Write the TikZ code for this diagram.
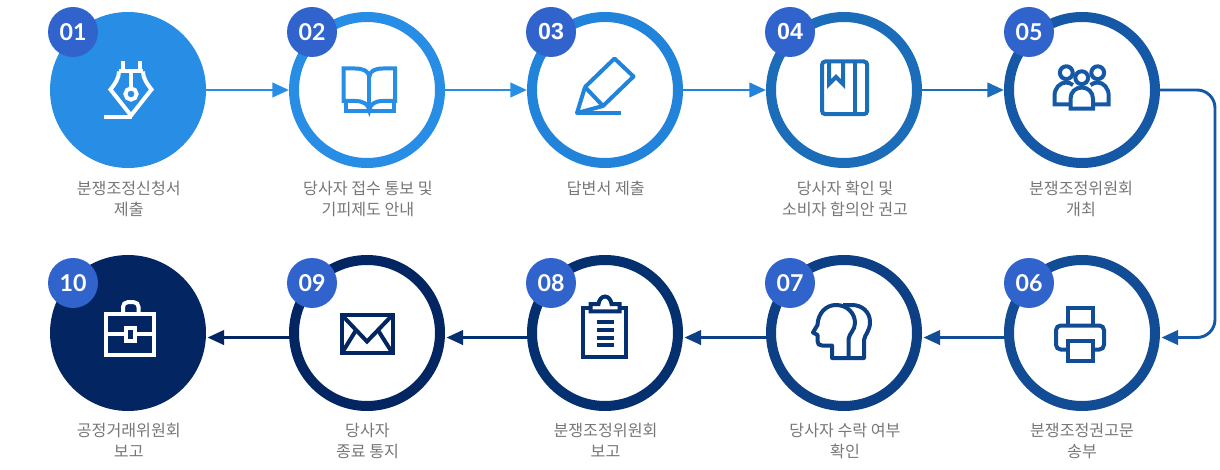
\documentclass[tikz,border=0pt]{standalone}
\usepackage{fontspec}
\usetikzlibrary{arrows.meta,calc}
\setmainfont{Noto Sans CJK KR}
\newfontfamily\latofont{Lato}
\newfontfamily\arialfont{Liberation Sans}
\definecolor{c1}{HTML}{288DE4}
\definecolor{c2}{HTML}{288DE4}
\definecolor{c3}{HTML}{2183DA}
\definecolor{c4}{HTML}{1C6DB9}
\definecolor{c5}{HTML}{1558A5}
\definecolor{c6}{HTML}{114C94}
\definecolor{c7}{HTML}{0D3F85}
\definecolor{c8}{HTML}{05306F}
\definecolor{c9}{HTML}{032663}
\definecolor{c10}{HTML}{032663}
\definecolor{badgecol}{HTML}{3163CC}
\definecolor{labelcol}{HTML}{777777}
\tikzset{
  ring/.style={circle,draw=#1,fill=white,line width=7.5pt,minimum size=109.5pt,inner sep=0pt},
  disc/.style={circle,fill=#1,minimum size=117pt,inner sep=0pt,outer sep=0pt},
  badge/.style={circle,fill=badgecol,minimum size=37.5pt,inner sep=0pt,text=white,font=\latofont\bfseries\fontsize{17.4}{18}\selectfont},
  badgeb/.style={badge,font=\arialfont\bfseries\fontsize{17.4}{18}\selectfont},
  caption/.style={anchor=north,align=center,inner sep=0pt,text=labelcol,font=\fontsize{12.1}{15.7}\selectfont},
  link/.style={draw=#1,line width=2.2pt,-{Triangle[length=12.5pt,width=10.8pt,fill=#1]}},
  icon/.style={draw=#1,line width=3pt,line join=miter,fill=none},
}
\begin{document}
\begin{tikzpicture}[x=0.75pt,y=-0.75pt]
\useasboundingbox (0,0) rectangle (1220,470);
% circles
\node[disc=c1] (n1) at (128,90) {};
\node[ring=c2] (n2) at (367,90) {};
\node[ring=c3] (n3) at (605,90) {};
\node[ring=c4] (n4) at (844,90) {};
\node[ring=c5] (n5) at (1082,90) {};
\node[ring=c6] (n6) at (1082,333) {};
\node[ring=c7] (n7) at (844,333) {};
\node[ring=c8] (n8) at (605,333) {};
\node[ring=c9] (n9) at (367,333) {};
\node[disc=c10] (n10) at (128,333) {};
% connectors
\draw[link=c1] (n1.east) -- (n2.west);
\draw[link=c2] (n2.east) -- (n3.west);
\draw[link=c3] (n3.east) -- (n4.west);
\draw[link=c4] (n4.east) -- (n5.west);
\coordinate (e1) at (1215,90);
\coordinate (e2) at (1215,337.5);
\draw[link=c5,rounded corners=13.5pt] (n5.east) -- (e1) -- (e2) -- ([xshift=1.1pt,yshift=-3.4pt]n6.east);
\draw[link=c6] ([yshift=-3.4pt]n6.west) -- ([xshift=1.1pt,yshift=-3.4pt]n7.east);
\draw[link=c7] ([yshift=-3.4pt]n7.west) -- ([xshift=1.1pt,yshift=-3.4pt]n8.east);
\draw[link=c8] ([yshift=-3.4pt]n8.west) -- ([xshift=1.1pt,yshift=-3.4pt]n9.east);
\draw[link=c9] ([yshift=-3.4pt]n9.west) -- ([xshift=1.1pt,yshift=-3.4pt]n10.east);
% badges
\node[badge] (b1) at (73,32) {01};
\node[badge] (b2) at (312,32) {02};
\node[badgeb] (b3) at (551,32) {03};
\node[badgeb] (b4) at (790,32) {04};
\node[badge] (b5) at (1029,32) {05};
\node[badge] (b6) at (1029,283) {06};
\node[badge] (b7) at (790,283) {07};
\node[badge] (b8) at (551,283) {08};
\node[badge] (b9) at (312,283) {09};
\node[badge] (b10) at (73,283) {10};
% captions
\node[caption] (l1) at (128.8,180.5) {분쟁조정신청서\\제출};
\node[caption] (l2) at (368,180.5) {당사자 접수 통보 및\\기피제도 안내};
\node[caption] (l3) at (605.8,180.5) {답변서 제출};
\node[caption] (l4) at (845,180.5) {당사자 확인 및\\소비자 합의안 권고};
\node[caption] (l5) at (1081,180.5) {분쟁조정위원회\\개최};
\node[caption] (l6) at (1082,423) {분쟁조정권고문\\송부};
\node[caption] (l7) at (845,423) {당사자 수락 여부\\확인};
\node[caption] (l8) at (605.5,423) {분쟁조정위원회\\보고};
\node[caption] (l9) at (367.5,423) {당사자\\종료 통지};
\node[caption] (l10) at (128.8,423) {공정거래위원회\\보고};
% icon 01 pen nib
\begin{scope}[icon=white]
\draw (122.5,61) -- (122.5,72) (139.5,61) -- (139.5,72);
\draw (119,71.5) -- (143,71.5);
\draw (119,71.5) .. controls (119,78) and (115,84) .. (110.5,89.5) -- (131,115.5) -- (151.5,89.5) .. controls (147,84) and (143,78) .. (143,71.5);
\draw (131,71.5) -- (131,88.5);
\draw (131,94) circle (4.2pt);
\draw (104.3,117.5) -- (132,117.5);
\end{scope}
% icon 02 book
\begin{scope}[icon=c2]
\draw (343.5,101) -- (343.5,68.5) -- (355,68.5) .. controls (363,68.5) and (369,71) .. (369.3,77) .. controls (369.6,71) and (375,68.5) .. (383,68.5) -- (395.2,68.5) -- (395.2,101) -- (383,101) .. controls (375,101) and (370,104) .. (369.3,110.5) .. controls (368.6,104) and (363,101) .. (355,101) -- cycle;
\draw (369.3,77) -- (369.3,111);
\draw (345.8,101) -- (345.8,111.2) -- (394.2,111.2) -- (394.2,101);
\end{scope}
% icon 03 pencil
\begin{scope}[icon=c3,line join=round]
\draw (614.5,58.5) -- (633.5,76.5) -- (603,106) -- (585,87) -- cycle;
\draw (585,87) -- (577,113) -- (603,106);
\draw (577,113.3) -- (620.5,113.3);
\end{scope}
% icon 04 notebook
\begin{scope}[icon=c4]
\draw[rounded corners=2.5pt] (822,61.5) -- (867.2,61.5) -- (867.2,114.2) -- (822,114.2) -- cycle;
\draw (854.5,61.5) -- (854.5,114.2);
\draw (829,61.5) -- (829,84) -- (836,77) -- (843,84) -- (843,61.5);
\end{scope}
% icon 05 people
\begin{scope}[icon=c5]
\draw (1066.3,72.7) circle (4.8pt);
\draw (1097.7,72.7) circle (4.8pt);
\draw (1081.7,77.7) circle (4.8pt);
\draw (1069,104.5) -- (1054.5,104.5) -- (1054.5,96) .. controls (1054.5,88) and (1060,82.5) .. (1066,82.5) .. controls (1068.5,82.5) and (1071,83.5) .. (1073,85);
\draw (1094,104.5) -- (1108.7,104.5) -- (1108.7,96) .. controls (1108.7,88) and (1103.5,82.5) .. (1097.5,82.5) .. controls (1095,82.5) and (1092.5,83.5) .. (1090.5,85);
\draw (1070.5,108.7) -- (1070.5,99) .. controls (1070.5,92) and (1075.5,87.5) .. (1081.7,87.5) .. controls (1088,87.5) and (1093,92) .. (1093,99) -- (1093,108.7) -- cycle;
\end{scope}
% icon 06 printer
\begin{scope}[icon=c6]
\draw (1067.5,325.5) -- (1067.5,307.5) -- (1092.5,307.5) -- (1092.5,325.5);
\draw[rounded corners=3.5pt] (1066,349.5) -- (1056,349.5) -- (1056,325.5) -- (1104,325.5) -- (1104,349.5) -- (1094,349.5);
\draw (1067.5,340.8) rectangle (1092.5,361.2);
\end{scope}
% icon 07 heads
\begin{scope}[icon=c7,line join=round]
\draw (832,358) -- (832,345.5) -- (822,345.5) .. controls (819,345.5) and (817.5,344) .. (817.5,341) -- (817.5,335) -- (813,332.5) -- (817.5,325) .. controls (818,313) and (826,305) .. (836,305) .. controls (847,305) and (855,313) .. (855,323) .. controls (855,330) and (849.5,333) .. (848.5,339) -- (848.5,358) -- cycle;
\draw (848.5,358) -- (864,358) -- (864,340) .. controls (865,334) and (870,331) .. (870,322) .. controls (870,312) and (862,305) .. (852,305) -- (843,305);
\end{scope}
% icon 08 clipboard
\begin{scope}[icon=c8]
\draw (582.5,307.5) rectangle (626.3,357);
\draw[fill=white] (590.5,311.3) -- (590.5,304) -- (598.5,304) .. controls (599,300) and (601.5,296.5) .. (605,296.5) .. controls (608.5,296.5) and (611,300) .. (611.5,304) -- (619.5,304) -- (619.5,311.3) -- cycle;
\draw[line width=3pt] (596.5,322.3) -- (613.5,322.3) (596.5,330) -- (613.5,330) (596.5,337.6) -- (613.5,337.6) (596.5,345) -- (613.5,345);
\end{scope}
% icon 09 envelope
\begin{scope}[icon=c9]
\draw (341.8,315) rectangle (392.5,353.2);
\draw (341.8,315) -- (367,341.5) -- (392.5,315);
\draw (341.8,353.2) -- (355.5,331) (392.5,353.2) -- (378.5,331);
\end{scope}
% icon 10 briefcase
\begin{scope}[icon=white]
\draw (105.5,313.8) rectangle (153.5,355.2);
\draw (105.5,333.5) -- (124,333.5) (136,333.5) -- (153.5,333.5);
\draw (125.5,328) rectangle (134.5,341);
\draw[rounded corners=3.5pt] (123,313.8) -- (123,302.2) -- (138.5,302.2) -- (138.5,313.8);
\end{scope}
\end{tikzpicture}
\end{document}
